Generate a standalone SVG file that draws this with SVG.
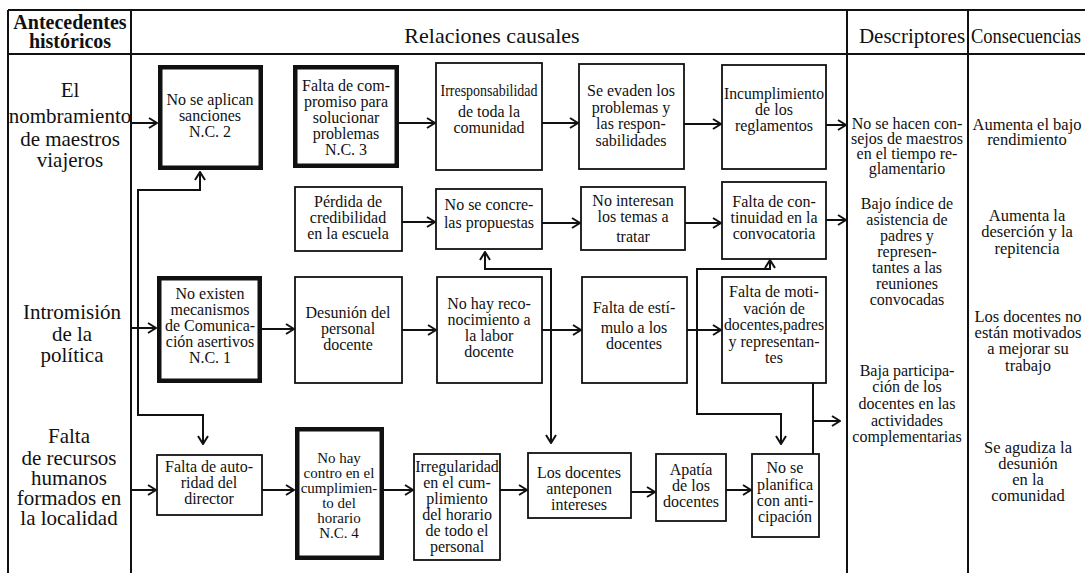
<svg xmlns="http://www.w3.org/2000/svg" width="1085" height="573" viewBox="0 0 1085 573">
<style>
.tbl{stroke:#111;stroke-width:2;fill:none}
.box{fill:#fff;stroke:#111;stroke-width:1.8}
.thick{fill:#fff;stroke:#111;stroke-width:4.5}
text{font-family:"Liberation Serif","Times New Roman",serif;font-size:16px;fill:#111;text-anchor:middle}
.lab{font-size:21px}
.hd{font-size:21px}
.hb{font-size:20px;font-weight:bold}
.cs{font-size:16.5px}
.sm{font-size:15px}
.con{stroke:#111;stroke-width:2;fill:none;marker-end:url(#ah)}
.ln{stroke:#111;stroke-width:2;fill:none}
</style>
<defs>
<marker id="ah" markerWidth="10" markerHeight="12" refX="9" refY="6" orient="auto" markerUnits="userSpaceOnUse">
<path d="M1,1 L9,6 L1,11" fill="none" stroke="#111" stroke-width="2"/>
</marker>
</defs>
<rect width="1085" height="573" fill="#fff"/>
<g id="table">
<path class="tbl" d="M8,10 H1085 M8,54 H1085 M8,10 V573 M131,10 V573 M847,10 V573 M968,10 V573"/>
<text class="hb" x="70" y="29">Antecedentes</text>
<text class="hb" x="70" y="48">históricos</text>
<text class="hd" x="492" y="43" style="font-size:22px">Relaciones causales</text>
<text class="hd" x="912" y="43">Descriptores</text>
<text class="hd" x="971" y="43" style="text-anchor:start" textLength="110" lengthAdjust="spacingAndGlyphs">Consecuencias</text>
</g>
<g id="antecedentes">
<g id="ant1"><text class="lab" x="70" y="97">El</text><text class="lab" x="70" y="123">nombramiento</text><text class="lab" x="70" y="146">de maestros</text><text class="lab" x="70" y="167">viajeros</text></g>
<g id="ant2"><text class="lab" x="72" y="319">Intromisión</text><text class="lab" x="72" y="341">de la</text><text class="lab" x="72" y="362">política</text></g>
<g id="ant3"><text class="lab" x="69" y="443">Falta</text><text class="lab" x="69" y="465">de recursos</text><text class="lab" x="69" y="485">humanos</text><text class="lab" x="69" y="505">formados en</text><text class="lab" x="69" y="525">la localidad</text></g>
</g>
<g id="connectors">
<path class="con" d="M132,123 H157"/>
<path class="con" d="M399,123 H435"/>
<path class="con" d="M542,123 H578"/>
<path class="con" d="M684,124 H721"/>
<path class="con" d="M826,125 H846"/>
<path class="con" d="M402,222 H435"/>
<path class="con" d="M542,223 H580"/>
<path class="con" d="M685,223 H721"/>
<path class="con" d="M826,220 H846"/>
<path class="con" d="M132,328 H156"/>
<path class="con" d="M262,329 H294"/>
<path class="con" d="M402,330 H436"/>
<path class="con" d="M542,330 H581"/>
<path class="con" d="M687,330 H721"/>
<path class="con" d="M132,490 H156"/>
<path class="con" d="M262,490 H294"/>
<path class="con" d="M384,490 H413"/>
<path class="con" d="M500,490 H527"/>
<path class="con" d="M631,492 H655"/>
<path class="con" d="M726,490 H751"/>
<path class="con" d="M138,300 V190 H200 V172"/>
<path class="con" d="M138,300 V415 H203 V444"/>
<path class="con" d="M551,330 V269 H485 V252"/>
<path class="con" d="M551,330 V443"/>
<path class="con" d="M697,330 V269 H770 V260"/>
<path class="con" d="M697,330 V414 H781 V444"/>
<path class="ln" d="M813,383 V454"/>
<path class="con" d="M813,421 H840"/>
</g>
<g id="n_nc2"><rect class="thick" x="160.25" y="67.25" width="100.5" height="100.5"/><text x="210" y="105">No se aplican</text><text x="210" y="121">sanciones</text><text x="210" y="137">N.C. 2</text></g>
<g id="n_nc3"><rect class="thick" x="295.25" y="67.25" width="101.5" height="98.5"/><text x="346" y="91">Falta de com-</text><text x="346" y="107">promiso para</text><text x="346" y="123">solucionar</text><text x="346" y="139">problemas</text><text x="346" y="155">N.C. 3</text></g>
<g id="n_irresp"><rect class="box" x="436" y="63" width="106" height="107"/><text x="489" y="96" textLength="97" lengthAdjust="spacingAndGlyphs">Irresponsabilidad</text><text x="489" y="117">de toda la</text><text x="489" y="133">comunidad</text></g>
<g id="n_evaden"><rect class="box" x="579" y="64" width="105" height="105"/><text x="631" y="96">Se evaden los</text><text x="631" y="112.5">problemas y</text><text x="631" y="129">las respon-</text><text x="631" y="145.5">sabilidades</text></g>
<g id="n_incump"><rect class="box" x="722" y="65" width="104" height="104"/><text x="774" y="99" textLength="100" lengthAdjust="spacingAndGlyphs">Incumplimiento</text><text x="774" y="115">de los</text><text x="774" y="131">reglamentos</text></g>
<g id="n_perdida"><rect class="box" x="295" y="187" width="107" height="64"/><text x="348" y="207">Pérdida de</text><text x="348" y="223">credibilidad</text><text x="348" y="239">en la escuela</text></g>
<g id="n_concre"><rect class="box" x="436" y="189" width="106" height="60"/><text x="489" y="210">No se concre-</text><text x="489" y="228">las propuestas</text></g>
<g id="n_interesan"><rect class="box" x="581" y="187" width="104" height="63"/><text x="633" y="206">No interesan</text><text x="633" y="222">los temas a</text><text x="633" y="242">tratar</text></g>
<g id="n_continuidad"><rect class="box" x="722" y="182" width="104" height="77"/><text x="774" y="207">Falta de con-</text><text x="774" y="223">tinuidad en la</text><text x="774" y="239">convocatoria</text></g>
<g id="n_nc1"><rect class="thick" x="159.25" y="278.25" width="100.5" height="102.5"/><text x="210" y="299">No existen</text><text x="210" y="315">mecanismos</text><text x="210" y="331">de Comunica-</text><text x="210" y="347">ción asertivos</text><text x="210" y="363">N.C. 1</text></g>
<g id="n_desunion"><rect class="box" x="295" y="277" width="107" height="106"/><text x="348" y="318">Desunión del</text><text x="348" y="334">personal</text><text x="348" y="350">docente</text></g>
<g id="n_reconoc"><rect class="box" x="437" y="277" width="105" height="106"/><text x="489" y="309">No hay reco-</text><text x="489" y="325">nocimiento a</text><text x="489" y="341">la labor</text><text x="489" y="357">docente</text></g>
<g id="n_estimulo"><rect class="box" x="582" y="277" width="105" height="106"/><text x="634" y="313">Falta de estí-</text><text x="634" y="333">mulo a los</text><text x="634" y="349">docentes</text></g>
<g id="n_motivacion"><rect class="box" x="722" y="277" width="104" height="106"/><text x="774" y="297">Falta de moti-</text><text x="774" y="313.5">vación de</text><text x="774" y="330" textLength="100" lengthAdjust="spacingAndGlyphs">docentes,padres</text><text x="774" y="346.5">y representan-</text><text x="774" y="363">tes</text></g>
<g id="n_autoridad"><rect class="box" x="157" y="455" width="105" height="60"/><text x="209" y="472">Falta de auto-</text><text x="209" y="488">ridad del</text><text x="209" y="504">director</text></g>
<g id="n_nc4"><rect class="thick" x="297.25" y="429.25" width="84.5" height="128.5"/><text class="sm" x="339" y="463">No hay</text><text class="sm" x="339" y="478">contro en el</text><text class="sm" x="339" y="493">cumplimien-</text><text class="sm" x="339" y="508">to del</text><text class="sm" x="339" y="523">horario</text><text class="sm" x="339" y="538">N.C. 4</text></g>
<g id="n_irregular"><rect class="box" x="414" y="454" width="86" height="106"/><text x="457" y="472">Irregularidad</text><text x="457" y="488">en el cum-</text><text x="457" y="504">plimiento</text><text x="457" y="520">del horario</text><text x="457" y="536">de todo el</text><text x="457" y="552">personal</text></g>
<g id="n_anteponen"><rect class="box" x="528" y="453" width="103" height="65"/><text x="579" y="478">Los docentes</text><text x="579" y="494">anteponen</text><text x="579" y="510">intereses</text></g>
<g id="n_apatia"><rect class="box" x="656" y="454" width="70" height="67"/><text x="691" y="475">Apatía</text><text x="691" y="491">de los</text><text x="691" y="507">docentes</text></g>
<g id="n_planifica"><rect class="box" x="752" y="454" width="67" height="83"/><text x="785" y="473">No se</text><text x="785" y="490">planifica</text><text x="785" y="506">con anti-</text><text x="785" y="522">cipación</text></g>
<g id="descriptores">
<g id="d1"><text x="907" y="129">No se hacen con-</text><text x="907" y="144">sejos de maestros</text><text x="907" y="159">en el tiempo re-</text><text x="907" y="174">glamentario</text></g>
<g id="d2"><text x="907" y="209">Bajo índice de</text><text x="907" y="225">asistencia de</text><text x="907" y="241">padres y</text><text x="907" y="257">represen-</text><text x="907" y="273">tantes a las</text><text x="907" y="289">reuniones</text><text x="907" y="305">convocadas</text></g>
<g id="d3"><text x="907" y="376">Baja participa-</text><text x="907" y="392">ción de los</text><text x="907" y="409">docentes en las</text><text x="907" y="426">actividades</text><text x="907" y="442">complementarias</text></g>
</g>
<g id="consecuencias">
<g id="c1"><text class="cs" x="1027" y="130">Aumenta el bajo</text><text class="cs" x="1027" y="145">rendimiento</text></g>
<g id="c2"><text class="cs" x="1027" y="221">Aumenta la</text><text class="cs" x="1027" y="237">deserción y la</text><text class="cs" x="1027" y="254">repitencia</text></g>
<g id="c3"><text class="cs" x="1028" y="322">Los docentes no</text><text class="cs" x="1028" y="338">están motivados</text><text class="cs" x="1028" y="354">a mejorar su</text><text class="cs" x="1028" y="371">trabajo</text></g>
<g id="c4"><text class="cs" x="1028" y="453">Se agudiza la</text><text class="cs" x="1028" y="469">desunión</text><text class="cs" x="1028" y="485">en la</text><text class="cs" x="1028" y="501">comunidad</text></g>
</g>
</svg>
